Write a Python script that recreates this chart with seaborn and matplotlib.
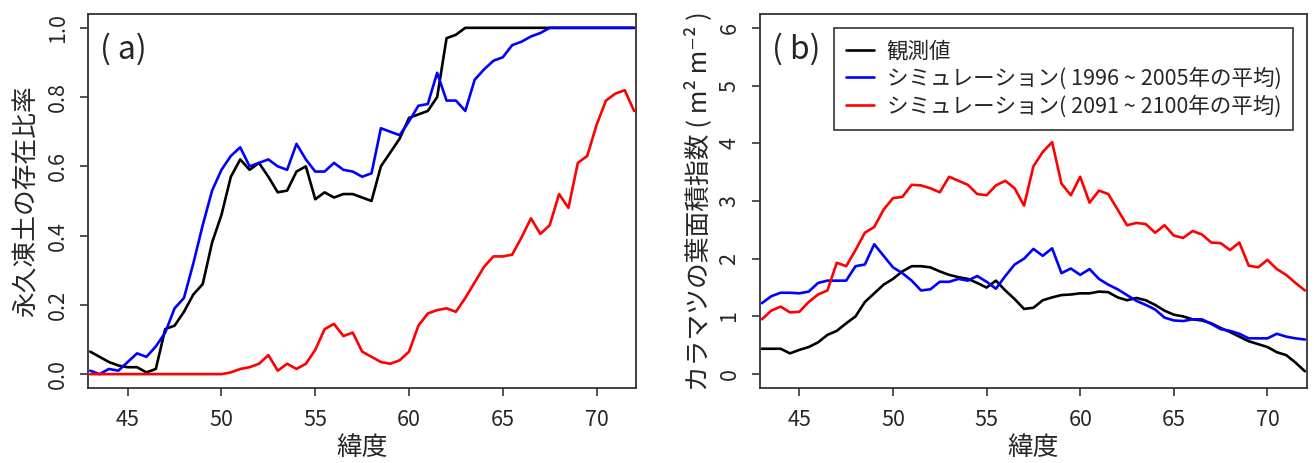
import numpy as np
import pandas as pd
import matplotlib
matplotlib.use("Agg")
import matplotlib.pyplot as plt
import seaborn as sns

# latitude grid (deg N)
lat = [43.0, 43.5, 44.0, 44.5, 45.0, 45.5, 46.0, 46.5, 47.0, 47.5,
       48.0, 48.5, 49.0, 49.5, 50.0, 50.5, 51.0, 51.5, 52.0, 52.5,
       53.0, 53.5, 54.0, 54.5, 55.0, 55.5, 56.0, 56.5, 57.0, 57.5,
       58.0, 58.5, 59.0, 59.5, 60.0, 60.5, 61.0, 61.5, 62.0, 62.5,
       63.0, 63.5, 64.0, 64.5, 65.0, 65.5, 66.0, 66.5, 67.0, 67.5,
       68.0, 68.5, 69.0, 69.5, 70.0, 70.5, 71.0, 71.5, 72.0]

# (a) permafrost fraction
pf_obs = [0.065, 0.05, 0.035, 0.025, 0.02, 0.02, 0.005, 0.015, 0.13, 0.14,
          0.18, 0.23, 0.26, 0.38, 0.46, 0.57, 0.62, 0.59, 0.61, 0.57,
          0.525, 0.53, 0.585, 0.60, 0.505, 0.525, 0.51, 0.52, 0.52, 0.51,
          0.50, 0.60, 0.64, 0.68, 0.74, 0.75, 0.76, 0.80, 0.97, 0.98,
          1.0, 1.0, 1.0, 1.0, 1.0, 1.0, 1.0, 1.0, 1.0, 1.0,
          1.0, 1.0, 1.0, 1.0, 1.0, 1.0, 1.0, 1.0, 1.0]
pf_sim_now = [0.01, 0.0, 0.015, 0.01, 0.035, 0.06, 0.05, 0.08, 0.12, 0.19,
              0.22, 0.32, 0.43, 0.53, 0.59, 0.63, 0.655, 0.60, 0.61, 0.62,
              0.60, 0.59, 0.665, 0.62, 0.585, 0.585, 0.61, 0.59, 0.585, 0.57,
              0.58, 0.71, 0.70, 0.69, 0.73, 0.775, 0.78, 0.87, 0.79, 0.79,
              0.76, 0.85, 0.88, 0.905, 0.915, 0.95, 0.96, 0.975, 0.985, 1.0,
              1.0, 1.0, 1.0, 1.0, 1.0, 1.0, 1.0, 1.0, 1.0]
pf_sim_future = [0.0, 0.0, 0.0, 0.0, 0.0, 0.0, 0.0, 0.0, 0.0, 0.0,
                 0.0, 0.0, 0.0, 0.0, 0.0, 0.005, 0.015, 0.02, 0.03, 0.055,
                 0.01, 0.03, 0.015, 0.03, 0.07, 0.13, 0.145, 0.11, 0.12, 0.065,
                 0.05, 0.035, 0.03, 0.04, 0.065, 0.14, 0.175, 0.185, 0.19, 0.18,
                 0.22, 0.265, 0.31, 0.34, 0.34, 0.345, 0.395, 0.45, 0.405, 0.43,
                 0.52, 0.48, 0.61, 0.63, 0.72, 0.79, 0.81, 0.82, 0.76]

# (b) larch leaf area index
lai_obs = [0.44, 0.44, 0.44, 0.36, 0.42, 0.47, 0.55, 0.68, 0.75, 0.88,
           1.0, 1.25, 1.4, 1.55, 1.65, 1.78, 1.87, 1.87, 1.85, 1.78,
           1.72, 1.68, 1.65, 1.58, 1.5, 1.62, 1.45, 1.3, 1.13, 1.15,
           1.28, 1.33, 1.37, 1.38, 1.4, 1.4, 1.43, 1.42, 1.33, 1.28,
           1.32, 1.28, 1.2, 1.1, 1.03, 1.0, 0.95, 0.93, 0.88, 0.8,
           0.73, 0.65, 0.57, 0.52, 0.47, 0.38, 0.33, 0.2, 0.05]
lai_sim_now = [1.23, 1.35, 1.41, 1.41, 1.4, 1.43, 1.58, 1.62, 1.62, 1.62,
               1.87, 1.9, 2.25, 2.05, 1.85, 1.75, 1.62, 1.45, 1.47, 1.6,
               1.6, 1.65, 1.62, 1.7, 1.6, 1.48, 1.7, 1.9, 2.0, 2.17,
               2.05, 2.18, 1.75, 1.83, 1.72, 1.82, 1.65, 1.55, 1.47, 1.37,
               1.27, 1.2, 1.12, 0.98, 0.93, 0.92, 0.95, 0.95, 0.87, 0.78,
               0.75, 0.7, 0.62, 0.62, 0.62, 0.7, 0.65, 0.62, 0.6]
lai_sim_future = [0.95, 1.1, 1.17, 1.07, 1.08, 1.25, 1.38, 1.45, 1.93, 1.87,
                  2.15, 2.45, 2.55, 2.85, 3.05, 3.07, 3.28, 3.27, 3.22, 3.15,
                  3.42, 3.35, 3.28, 3.12, 3.1, 3.27, 3.35, 3.22, 2.92, 3.6,
                  3.85, 4.02, 3.3, 3.1, 3.42, 2.97, 3.18, 3.12, 2.85, 2.58,
                  2.62, 2.6, 2.45, 2.58, 2.4, 2.36, 2.48, 2.42, 2.28, 2.27,
                  2.15, 2.28, 1.88, 1.85, 1.98, 1.82, 1.72, 1.58, 1.45]

labels = ["観測値",
          "シミュレーション( 1996 ~ 2005年の平均)",
          "シミュレーション( 2091 ~ 2100年の平均)"]
colors = ["#000000", "#0000ff", "#ff0000"]

sns.set_theme(style="ticks")
plt.rcParams["font.family"] = ["Noto Sans CJK JP", "DejaVu Sans"]

fig = plt.figure(figsize=(13.14, 4.63), dpi=100)
ax1 = fig.add_axes([0.0672, 0.1620, 0.4168, 0.8078])
ax2 = fig.add_axes([0.5784, 0.1620, 0.4161, 0.8078])

for ys, c, lab in zip([pf_obs, pf_sim_now, pf_sim_future], colors, labels):
    sns.lineplot(x=lat, y=ys, color=c, lw=1.9, ax=ax1, label=lab, legend=False)
for ys, c, lab in zip([lai_obs, lai_sim_now, lai_sim_future], colors, labels):
    sns.lineplot(x=lat, y=ys, color=c, lw=1.9, ax=ax2, label=lab)

ax1.set_ylim(-0.04, 1.04)
ax1.set_yticks([0.0, 0.2, 0.4, 0.6, 0.8, 1.0])
ax1.set_yticklabels(["0.0", "0.2", "0.4", "0.6", "0.8", "1.0"])
ax1.set_ylabel("永久凍土の存在比率", fontsize=18.5, labelpad=5)
ax1.text(0.064, 0.906, "( a)", transform=ax1.transAxes, fontsize=23,
         ha="center", va="center")

ax2.set_ylim(-0.24, 6.24)
ax2.set_yticks([0, 1, 2, 3, 4, 5, 6])
ax2.set_ylabel("カラマツの葉面積指数 ( m² m⁻² )", fontsize=18.5, labelpad=5)
ax2.text(0.066, 0.906, "( b)", transform=ax2.transAxes, fontsize=23,
         ha="center", va="center")

for ax in (ax1, ax2):
    ax.set_xlim(42.9, 72.1)
    ax.set_xticks([45, 50, 55, 60, 65, 70])
    ax.set_xlabel("緯度", fontsize=18.5, labelpad=3)
    ax.tick_params(axis="both", direction="out", length=6, width=1.2,
                   color="#333333", labelsize=15.5, pad=8)
    ax.tick_params(axis="x", pad=9)
    ax.tick_params(axis="y", labelrotation=90)
    for lbl in ax.get_yticklabels():
        lbl.set_va("center")
    for sp in ax.spines.values():
        sp.set_visible(True)
        sp.set_color("#333333")
        sp.set_linewidth(1.3)

leg = ax2.legend(loc="upper right", bbox_to_anchor=(0.975, 0.962),
                 borderaxespad=0, fontsize=15.5, frameon=True, fancybox=False,
                 edgecolor="#333333", framealpha=1, handlelength=1.3,
                 handletextpad=0.6, labelspacing=0.25, borderpad=0.55)
leg.get_frame().set_linewidth(1.2)

fig.savefig("out.png", dpi=100)
